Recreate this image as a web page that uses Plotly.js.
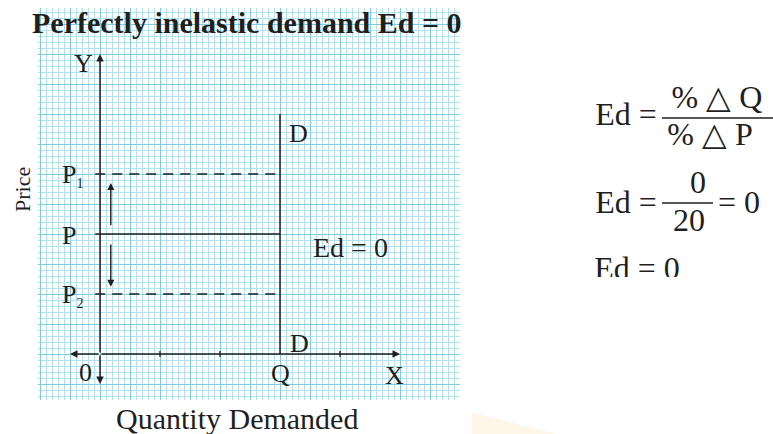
<!DOCTYPE html>
<html>
<head>
<meta charset="utf-8">
<script src="https://cdn.plot.ly/plotly-3.0.1.min.js"></script>
<style>
  html, body { margin: 0; padding: 0; background: #ffffff; }
  #chart { width: 773px; height: 434px; }
</style>
</head>
<body>
<div id="chart"></div>
<script>
// ---- Values of the diagram (price and quantity units) ----
const quantityQ = 3;          // fixed quantity demanded
const demandTop = 4;          // upper end of the vertical demand curve D
const priceP1 = 3;            // higher price P1
const priceP = 2;             // original price P
const priceP2 = 1;            // lower price P2
const xTickVals = [1, 2, 4];  // small ticks on the quantity axis
const axisXEnd = 5, axisXStart = -0.5;
const axisYEnd = 5, axisYStart = -0.5;

// Formula values
const pctChangeQ = 0;
const pctChangeP = 20;
const elasticity = pctChangeQ / pctChangeP;

const FONT = 'Liberation Serif';
const INK = '#1f1f1f';

const traces = [];

// placeholder so the graph-paper subplot is created
traces.push({ x: [null], y: [null], xaxis: 'x', yaxis: 'y', mode: 'lines',
  hoverinfo: 'skip', showlegend: false });

const lineStyle = (dash) => ({ color: INK, width: 1.5, dash: dash || 'solid' });

// vertical demand curve D at Q
traces.push({ x: [quantityQ, quantityQ], y: [0, demandTop], xaxis: 'x2', yaxis: 'y2',
  mode: 'lines', line: lineStyle(), hoverinfo: 'skip', showlegend: false });

// price lines from the Y axis to the demand curve
const leftStub = -0.08;
traces.push({ x: [leftStub, quantityQ], y: [priceP, priceP], xaxis: 'x2', yaxis: 'y2',
  mode: 'lines', line: lineStyle(), hoverinfo: 'skip', showlegend: false });
[priceP1, priceP2].forEach(p => {
  traces.push({ x: [leftStub, quantityQ], y: [p, p], xaxis: 'x2', yaxis: 'y2',
    mode: 'lines', line: { color: INK, width: 1.3, dash: '10px,7px' },
    hoverinfo: 'skip', showlegend: false });
});

// tick marks on the quantity axis
const tx = [], ty = [];
xTickVals.forEach(v => { tx.push(v, v, null); ty.push(-0.05, 0.05, null); });
traces.push({ x: tx, y: ty, xaxis: 'x2', yaxis: 'y2', mode: 'lines',
  line: { color: INK, width: 1.3 }, hoverinfo: 'skip', showlegend: false });

// fraction bars of the formula
traces.push({ x: [662, 773], y: [118, 118], xaxis: 'x3', yaxis: 'y3', mode: 'lines',
  line: { color: INK, width: 1.6 }, hoverinfo: 'skip', showlegend: false });
traces.push({ x: [662, 713], y: [203, 203], xaxis: 'x3', yaxis: 'y3', mode: 'lines',
  line: { color: INK, width: 1.6 }, hoverinfo: 'skip', showlegend: false });

// formula text (the panel clips the last line at its bottom edge)
const formulaText = ['Ed =', '% \u25B3 Q', '% \u25B3 P',
  'Ed =', String(pctChangeQ), String(pctChangeP), '= ' + elasticity,
  'Ed = ' + elasticity];
const formulaX = [626, 717, 710, 626, 698, 689, 739, 637];
const formulaY = [117, 100, 137, 205, 185, 223, 205, 271];
traces.push({ x: formulaX, y: formulaY, text: formulaText, xaxis: 'x3', yaxis: 'y3',
  mode: 'text', textposition: 'middle center', cliponaxis: true,
  textfont: { family: FONT, size: 32, color: INK },
  hoverinfo: 'skip', showlegend: false });

// ---- annotations: axis arrows, change arrows and labels ----
const arrow = (x0, y0, x1, y1, w) => ({
  x: x1, y: y1, ax: x0, ay: y0, xref: 'x2', yref: 'y2', axref: 'x2', ayref: 'y2',
  showarrow: true, arrowhead: 2, arrowsize: 1, arrowwidth: w || 1.5,
  arrowcolor: INK, text: ''
});
const label = (text, x, y, size, xanchor) => ({
  text, x, y, xref: 'x2', yref: 'y2', showarrow: false,
  xanchor: xanchor || 'center', yanchor: 'middle',
  font: { family: FONT, size: size || 26, color: INK }
});
const sub = (s) => '<span style="font-size:14px">' + s + '</span>';

const annotations = [
  arrow(0, 0, 0, axisYEnd),
  arrow(0, 0, 0, axisYStart),
  arrow(0, 0, axisXEnd, 0),
  arrow(0, 0, axisXStart, 0),
  arrow(0.18, priceP + 0.12, 0.18, priceP1 - 0.15, 1.4),
  arrow(0.18, priceP - 0.15, 0.18, priceP2 + 0.12, 1.4),
  label('Y', -0.47, 4.85, 26, 'left'),
  label('P<sub>' + sub('1') + '</sub>', -0.67, priceP1 - 0.02, 26, 'left'),
  label('P', -0.67, priceP - 0.03, 26, 'left'),
  label('P<sub>' + sub('2') + '</sub>', -0.67, priceP2 - 0.03, 26, 'left'),
  label('0', -0.25, -0.3),
  label('Q', quantityQ, -0.33),
  label('X', 4.9, -0.35),
  label('D', 3.3, 3.68),
  label('D', 3.32, 0.18),
  label('Ed = ' + elasticity, 4.17, 1.77, 28)
];
annotations.push({ text: 'Price', x: 22 / 773, y: 1 - 190 / 434, xref: 'paper', yref: 'paper',
  showarrow: false, textangle: -90, xanchor: 'center', yanchor: 'middle',
  font: { family: FONT, size: 22, color: INK } });
annotations.push({ text: 'Quantity Demanded', x: 237 / 773, y: 1 - 418 / 434,
  xref: 'paper', yref: 'paper', showarrow: false, xanchor: 'center', yanchor: 'middle',
  font: { family: FONT, size: 30, color: INK } });
annotations.push({ text: '<b>Perfectly inelastic demand Ed = 0</b>', x: 247 / 773,
  y: 1 - 22 / 434, xref: 'paper', yref: 'paper', showarrow: false,
  xanchor: 'center', yanchor: 'middle',
  font: { family: FONT, size: 30, color: INK } });

// ---- layout ----
const hidden = { showgrid: false, zeroline: false, showticklabels: false, ticks: '',
  showline: false, fixedrange: true };
const gridAxis = (range, domain, anchor) => Object.assign({}, hidden, {
  range, domain, anchor, showgrid: true, dtick: 0.5, tick0: 0,
  gridcolor: '#80cde0', gridwidth: 1,
  minor: { dtick: 0.1, tick0: 0, showgrid: true, gridcolor: '#b2e2ee', gridwidth: 1 }
});

const layout = {
  width: 773, height: 434,
  margin: { l: 0, r: 0, t: 0, b: 0, pad: 0 },
  paper_bgcolor: '#ffffff', plot_bgcolor: 'rgba(0,0,0,0)',
  showlegend: false,
  // graph paper
  xaxis: gridAxis([-62 / 60, 360 / 60], [38 / 773, 460 / 773], 'y'),
  yaxis: gridAxis([-46 / 60, 346 / 60], [34 / 434, 426 / 434], 'x'),
  // diagram
  xaxis2: Object.assign({}, hidden, { range: [-100 / 60, 673 / 60], domain: [0, 1], anchor: 'y2' }),
  yaxis2: Object.assign({}, hidden, { range: [-80 / 60, 354 / 60], domain: [0, 1], anchor: 'x2' }),
  // formula panel
  xaxis3: Object.assign({}, hidden, { range: [541, 773], domain: [541 / 773, 1], anchor: 'y3' }),
  yaxis3: Object.assign({}, hidden, { range: [277, 0], domain: [157 / 434, 1], anchor: 'x3' }),
  shapes: [{
    type: 'path', xref: 'paper', yref: 'paper', layer: 'below',
    path: 'M 0.61 0 L 0.61 0.05 L 0.72 0 Z',
    fillcolor: 'rgba(253,226,180,0.3)', line: { width: 0 }
  }],
  annotations
};

Plotly.newPlot('chart', traces, layout, { displayModeBar: false, staticPlot: true });
</script>
</body>
</html>
